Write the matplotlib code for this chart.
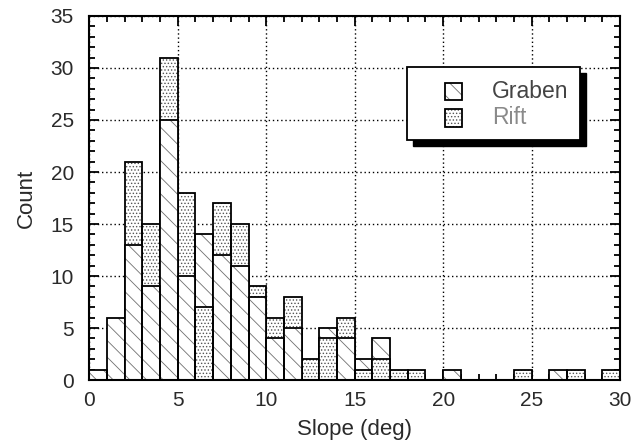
import matplotlib
matplotlib.use('Agg')
import matplotlib.pyplot as plt
from matplotlib.patches import Rectangle
from matplotlib.ticker import MultipleLocator
import numpy as np

# 1-degree slope bins, left edges 0..29
BIN_LEFT = np.arange(0, 30)
GRABEN = [1, 6, 13, 9, 25, 10, 14, 12, 11, 8, 4, 5, 0, 5, 4,
          2, 4, 0, 0, 0, 1, 0, 0, 0, 0, 0, 1, 0, 0, 0]
RIFT   = [0, 0, 21, 15, 31, 18, 7, 17, 15, 9, 6, 8, 2, 4, 6,
          1, 2, 1, 1, 0, 0, 0, 0, 0, 1, 0, 0, 1, 0, 1]
LABELS = ['Graben', 'Rift']

TEXT  = '#2a2a2a'
HATCH_G = '#707070'
HATCH_R = '#555555'
FONT  = 'Liberation Sans'

plt.rcParams['font.family'] = [FONT, 'DejaVu Sans']
plt.rcParams['hatch.linewidth'] = 0.6

fig = plt.figure(figsize=(6.42, 4.42), dpi=100)
fig.patch.set_facecolor('white')
ax = fig.add_axes([0.139, 0.140, 0.827, 0.824])


def draw_series(vals, hatch, hcol, front):
    fills = ax.bar(BIN_LEFT, vals, width=1, align='edge', color='white',
                   edgecolor=hcol, linewidth=0, hatch=hatch)
    lines = ax.bar(BIN_LEFT, vals, width=1, align='edge', fill=False,
                   edgecolor='black', linewidth=1.3)
    # shorter bar of each bin sits in front
    for f, l, fr in zip(fills, lines, front):
        base = 4 if fr else 2
        f.set_zorder(base)
        l.set_zorder(base + 0.5)


g = np.array(GRABEN)
r = np.array(RIFT)
draw_series(GRABEN, '\\\\', HATCH_G, g <= r)
draw_series(RIFT, '.....', HATCH_R, r < g)

ax.set_xlim(0, 30)
ax.set_ylim(0, 35)
ax.xaxis.set_major_locator(MultipleLocator(5))
ax.xaxis.set_minor_locator(MultipleLocator(1))
ax.yaxis.set_major_locator(MultipleLocator(5))
ax.yaxis.set_minor_locator(MultipleLocator(1))
ax.tick_params(which='both', direction='in', top=True, right=True,
               colors='black', labelcolor=TEXT, labelsize=15, width=1.3)
ax.tick_params(which='major', length=7)
ax.tick_params(which='minor', length=4)
ax.tick_params(axis='y', which='major', pad=11)
ax.tick_params(axis='x', which='major', pad=8)
ax.set_axisbelow(True)
ax.grid(which='major', color='black', lw=1.0, ls=(0, (1, 2)))
for sp in ax.spines.values():
    sp.set_linewidth(1.5)
    sp.set_zorder(10)

ax.set_xlabel('Slope (deg)', color=TEXT, fontsize=16, labelpad=6)
ax.set_ylabel('Count', color=TEXT, fontsize=16, labelpad=10)

# legend box with solid drop shadow
lx, ly, lw, lh = 0.599, 0.66, 0.326, 0.20
ax.add_patch(Rectangle((lx + 0.011, ly - 0.016), lw, lh, transform=ax.transAxes,
                       facecolor='black', edgecolor='black', zorder=20, clip_on=False))
ax.add_patch(Rectangle((lx, ly), lw, lh, transform=ax.transAxes,
                       facecolor='white', edgecolor='black', lw=1.3, zorder=21,
                       clip_on=False))
for i, (lab, hatch, hcol, col) in enumerate(zip(LABELS, ['\\\\', '.....'],
                                                [HATCH_G, HATCH_R],
                                                ['#444444', '#8a8a8a'])):
    yc = ly + lh * (0.66 - 0.36 * i)
    ax.add_patch(Rectangle((lx + 0.072, yc - 0.024), 0.032, 0.048,
                           transform=ax.transAxes, facecolor='white',
                           edgecolor=hcol, lw=0, hatch=hatch, zorder=22))
    ax.add_patch(Rectangle((lx + 0.072, yc - 0.024), 0.032, 0.048,
                           transform=ax.transAxes, fill=False,
                           edgecolor='black', lw=1.3, zorder=23))
    ax.text(lx + 0.16, yc, lab, transform=ax.transAxes, va='center',
            ha='left', fontsize=16.5, color=col, zorder=24)

plt.savefig('out.png', dpi=100, facecolor='white')
plt.close()
